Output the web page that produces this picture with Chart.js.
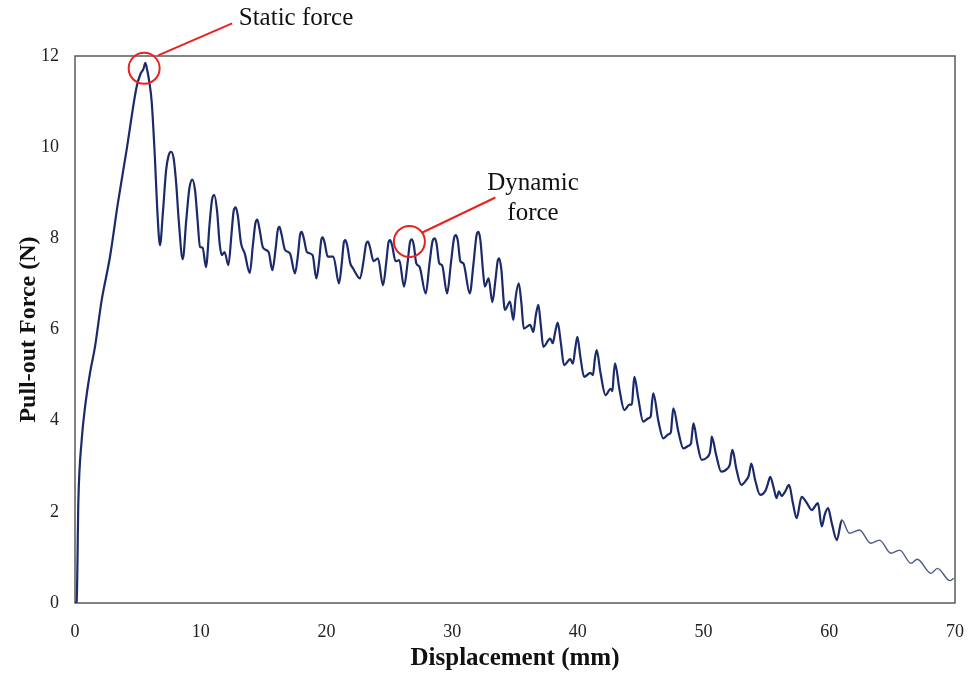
<!DOCTYPE html>
<html>
<head>
<meta charset="utf-8">
<script src="https://cdn.jsdelivr.net/npm/chart.js@4.4.1/dist/chart.umd.min.js"></script>
<style>
  html, body { margin: 0; padding: 0; background: #ffffff; }
  #wrap { width: 970px; height: 677px; position: relative; }
</style>
</head>
<body>
<div id="wrap"><canvas id="c"></canvas></div>
<script>
// ---- Data ----
const xTickValues = [0, 10, 20, 30, 40, 50, 60, 70];
const yTickValues = [0, 2, 4, 6, 8, 10, 12];

// Rise to the static peak
const riseX = [0, 0.13, 0.27, 0.53, 0.8, 1.19, 1.59, 2.12, 2.78, 3.4, 4.1, 4.9, 5.2, 5.45, 5.6, 5.75, 5.9, 6.1, 6.35, 6.55];
const riseY = [0, 0.03, 2.26, 3.57, 4.3, 5.04, 5.62, 6.64, 7.59, 8.75, 9.93, 11.32, 11.6, 11.72, 11.85, 11.68, 11.45, 11.0, 9.8, 8.6];

// Oscillating plateau (dynamic force)
const plateauX = [
  6.76, 7.0, 7.25, 7.45, 7.64, 7.85, 8.05, 8.25, 8.57, 8.85,
  9.1, 9.33, 9.55, 9.75, 9.94, 10.15, 10.42, 10.7, 10.9, 11.08,
  11.3, 11.5, 11.67, 11.9, 12.2, 12.45, 12.62, 12.78, 12.95, 13.2,
  13.5, 13.9, 14.15, 14.35, 14.5, 14.68, 14.95, 15.4, 15.7, 15.95,
  16.12, 16.26, 16.42, 16.7, 17.1, 17.5, 17.72, 17.9, 18.03, 18.2,
  18.45, 18.9, 19.2, 19.42, 19.58, 19.7, 19.86, 20.1, 20.55, 21.0,
  21.22, 21.38, 21.5, 21.65, 21.9, 22.1, 22.67, 22.95, 23.15, 23.3,
  23.45, 23.75, 24.1, 24.5, 24.75, 24.93, 25.06, 25.22, 25.5, 25.8,
  26.17, 26.45, 26.65, 26.8, 26.95, 27.15, 27.4, 27.9, 28.2, 28.45,
  28.6, 28.75, 28.98, 29.2, 29.6, 29.9, 30.15, 30.3, 30.45, 30.65,
  30.9, 31.4, 31.7, 31.95, 32.1, 32.25, 32.45, 32.6, 32.9, 33.2,
  33.45, 33.62, 33.75, 33.9, 34.2
];
const plateauY = [
  7.85, 8.6, 9.5, 9.82, 9.9, 9.75, 9.2, 8.4, 7.54, 8.4,
  9.1, 9.29, 9.05, 8.4, 7.81, 7.8, 7.37, 8.3, 8.85, 8.95,
  8.6, 7.9, 7.63, 7.7, 7.41, 8.1, 8.6, 8.68, 8.5, 7.9,
  7.67, 7.24, 7.85, 8.33, 8.41, 8.2, 7.8, 7.7, 7.30, 7.75,
  8.17, 8.25, 8.1, 7.75, 7.67, 7.23, 7.6, 8.07, 8.14, 8.0,
  7.7, 7.63, 7.12, 7.5, 7.95, 8.02, 7.9, 7.6, 7.6, 7.01,
  7.45, 7.9, 7.96, 7.85, 7.45, 7.35, 7.12, 7.5, 7.87, 7.93,
  7.82, 7.5, 7.56, 6.97, 7.45, 7.9, 7.96, 7.85, 7.5, 7.52,
  6.94, 7.45, 7.92, 7.98, 7.85, 7.45, 7.38, 6.79, 7.45, 7.95,
  8.0, 7.9, 7.45, 7.41, 6.79, 7.45, 8.0, 8.07, 7.95, 7.5,
  7.45, 6.79, 7.45, 8.08, 8.14, 7.95, 7.3, 6.94, 7.12, 6.6,
  7.1, 7.5, 7.56, 7.35, 6.43
];

// Stepped decline
const declineX = [
  34.6, 34.87, 35.05, 35.3, 35.5, 35.7, 36.2, 36.46, 36.65, 36.86, 37.05, 37.25, 37.8, 38.0, 38.2, 38.4, 38.65, 38.9, 39.4, 39.6,
  39.8, 39.96, 40.2, 40.5, 41.0, 41.2, 41.35, 41.5, 41.8, 42.2, 42.6, 42.75, 42.85, 42.96, 43.3, 43.7, 44.1,
  44.3, 44.4, 44.5, 44.8, 45.2, 45.6, 45.8, 45.9, 46.0, 46.4, 46.8, 47.2, 47.4, 47.5, 47.6, 48.0, 48.4, 48.8,
  49.0, 49.1, 49.2, 49.5, 49.85, 50.3, 50.5, 50.6, 50.65, 51.0, 51.4, 51.9, 52.1, 52.2, 52.3, 52.6, 53.0,
  53.4, 53.6, 53.7, 53.8, 54.1, 54.5, 54.9, 55.1, 55.2, 55.3, 55.6, 55.8, 56.0, 56.2, 56.5, 56.8, 57.1, 57.4
];
const declineY = [
  6.61, 6.21, 6.7, 7.01, 6.6, 6.02, 6.10, 5.95, 6.3, 6.54, 6.1, 5.62, 5.80, 5.7, 5.95, 6.15, 5.7, 5.22, 5.35, 5.25,
  5.6, 5.84, 5.4, 4.96, 5.05, 5.0, 5.35, 5.55, 5.05, 4.56, 4.7, 4.65, 5.0, 5.26, 4.7, 4.23, 4.35,
  4.35, 4.7, 4.96, 4.5, 3.98, 4.05, 4.1, 4.4, 4.60, 4.0, 3.61, 3.7, 3.75, 4.05, 4.27, 3.75, 3.39, 3.45,
  3.5, 3.75, 3.94, 3.5, 3.14, 3.2, 3.3, 3.5, 3.65, 3.25, 2.88, 2.95, 3.05, 3.25, 3.36, 2.95, 2.59,
  2.7, 2.8, 2.95, 3.06, 2.7, 2.37, 2.45, 2.6, 2.7, 2.77, 2.5, 2.30, 2.45, 2.35, 2.45, 2.59, 2.2, 1.86
];

// Smooth tail
const tailX = [57.8, 58.2, 58.6, 59.1, 59.4, 59.65, 59.9, 60.2, 60.6, 61.0, 61.6, 62.4, 63.3, 64.0, 64.9, 65.6, 66.5, 67.0, 68.1, 68.6, 69.6, 69.9];
const tailY = [2.33, 2.2, 2.04, 2.19, 1.68, 1.95, 2.08, 1.75, 1.38, 1.82, 1.53, 1.60, 1.31, 1.38, 1.09, 1.16, 0.87, 0.96, 0.65, 0.76, 0.49, 0.54];

// Annotation anchors (data coordinates) and labels
const annotationLabels = [["Static force"], ["Dynamic", "force"]];
const annotationX = [5.5, 26.6];
const annotationY = [11.73, 7.93];

const displacement = riseX.concat(plateauX, declineX, tailX);
const pullOutForce = riseY.concat(plateauY, declineY, tailY);
const points = displacement.map((x, i) => ({ x: x, y: pullOutForce[i] }));
const TAIL_START = 61.0;
const SERIF = '"Liberation Serif", "Times New Roman", serif';

const framePlugin = {
  id: 'frame',
  beforeDatasetsDraw(chart) {
    const a = chart.chartArea, ctx = chart.ctx;
    ctx.save();
    ctx.strokeStyle = '#5a5a5a';
    ctx.lineWidth = 1.5;
    ctx.strokeRect(a.left, a.top, a.right - a.left, a.bottom - a.top);
    ctx.restore();
  }
};

const annotationPlugin = {
  id: 'notes',
  afterDraw(chart) {
    const ctx = chart.ctx, xs = chart.scales.x, ys = chart.scales.y;
    const cfg = [
      { dx1: 14, dy1: -13, dx2: 88, dy2: -45, tx: 296, ty: 18 },
      { dx1: 13, dy1: -9, dx2: 86, dy2: -44, tx: 533, ty: 183 }
    ];
    ctx.save();
    ctx.strokeStyle = '#e8231f';
    ctx.lineWidth = 2;
    annotationX.forEach((v, i) => {
      const cx = xs.getPixelForValue(v), cy = ys.getPixelForValue(annotationY[i]);
      const c = cfg[i];
      ctx.beginPath();
      ctx.arc(cx, cy, 15.5, 0, Math.PI * 2);
      ctx.stroke();
      ctx.beginPath();
      ctx.moveTo(cx + c.dx1, cy + c.dy1);
      ctx.lineTo(cx + c.dx2, cy + c.dy2);
      ctx.stroke();
      ctx.fillStyle = '#111';
      ctx.font = '25px ' + SERIF;
      ctx.textAlign = 'center';
      ctx.textBaseline = 'middle';
      annotationLabels[i].forEach((t, j) => ctx.fillText(t, c.tx, c.ty + j * 30));
    });
    ctx.restore();
  }
};

new Chart(document.getElementById('c'), {
  type: 'line',
  data: {
    datasets: [{
      data: points,
      borderColor: '#1b2a6b',
      borderWidth: 2.2,
      pointRadius: 0,
      cubicInterpolationMode: 'monotone',
      fill: false,
      segment: {
        borderWidth: ctx => ctx.p0.parsed.x >= TAIL_START ? 1.4 : undefined,
        borderColor: ctx => ctx.p0.parsed.x >= TAIL_START ? '#4a5a82' : undefined
      }
    }]
  },
  options: {
    animation: false,
    responsive: true,
    maintainAspectRatio: false,
    layout: { padding: { top: 56, right: 15, left: 0, bottom: 0 } },
    plugins: { legend: { display: false }, tooltip: { enabled: false } },
    scales: {
      x: {
        type: 'linear', min: 0, max: 70,
        afterBuildTicks: s => { s.ticks = xTickValues.map(v => ({ value: v })); },
        grid: { display: false, drawTicks: false },
        border: { display: false },
        ticks: { padding: 18, color: '#222', font: { family: SERIF, size: 18 } },
        title: { display: true, text: 'Displacement (mm)', color: '#111', padding: { top: 0, bottom: 3 },
                 font: { family: SERIF, size: 25, weight: 'bold' } },
        afterFit: s => { s.height = 74; s.paddingLeft = 0; s.paddingRight = 0; }
      },
      y: {
        type: 'linear', min: 0, max: 12,
        afterBuildTicks: s => { s.ticks = yTickValues.map(v => ({ value: v })); },
        grid: { display: false, drawTicks: false },
        border: { display: false },
        ticks: { padding: 16, color: '#222', font: { family: SERIF, size: 18 } },
        title: { display: true, text: 'Pull-out Force (N)', color: '#111', padding: { top: 14, bottom: 0 },
                 font: { family: SERIF, size: 24, weight: 'bold' } },
        afterFit: s => { s.width = 75; s.paddingTop = 0; s.paddingBottom = 0; }
      }
    }
  },
  plugins: [framePlugin, annotationPlugin]
});
</script>
</body>
</html>
